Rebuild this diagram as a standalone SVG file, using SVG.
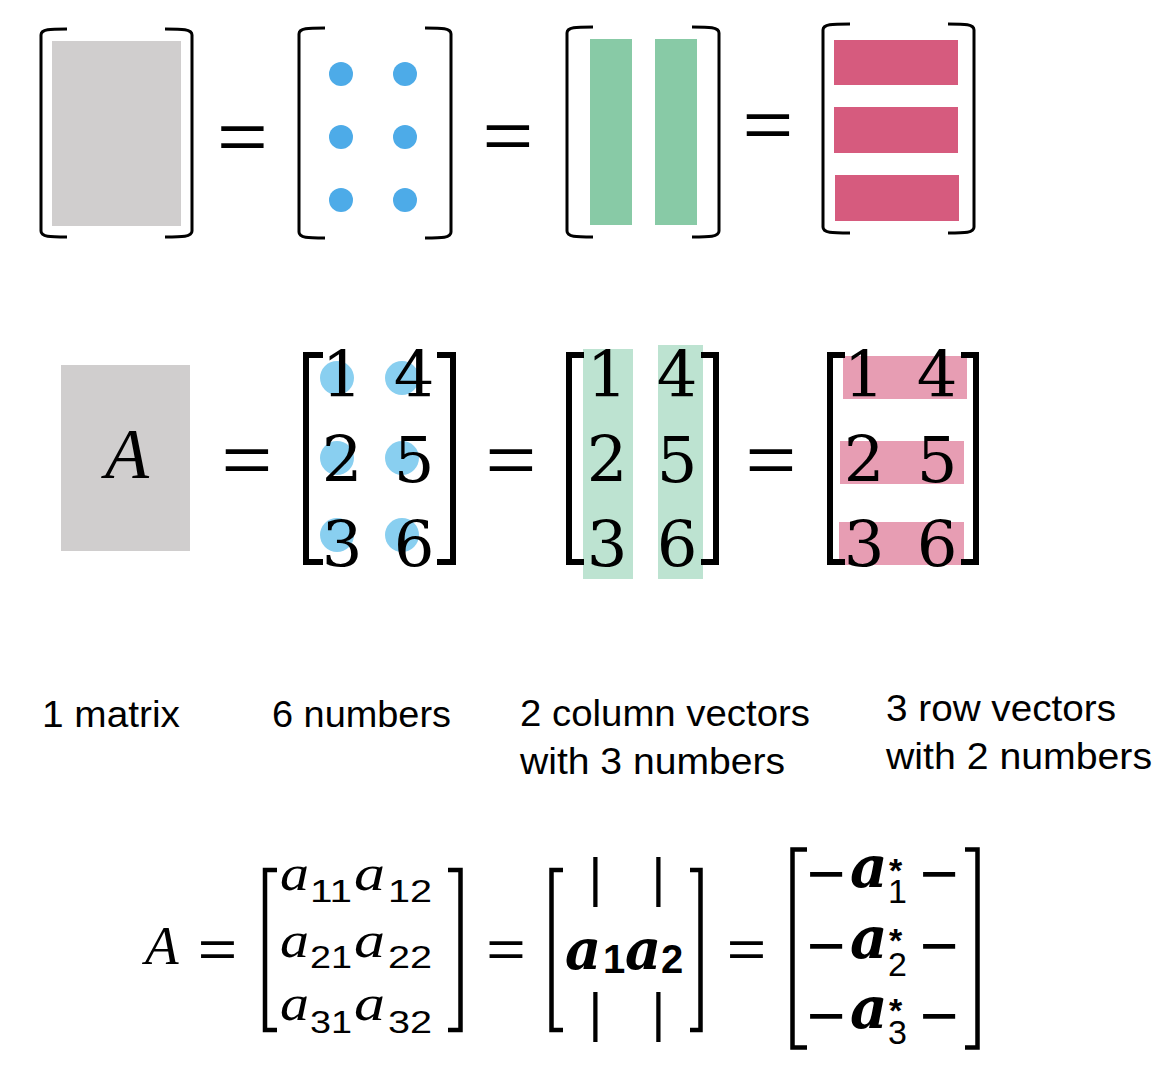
<svg xmlns="http://www.w3.org/2000/svg" width="1170" height="1070" viewBox="0 0 1170 1070">
<style>
.br{fill:none;stroke:#000;stroke-width:3;stroke-linecap:butt}
.brm{fill:none;stroke:#000;stroke-width:6;stroke-linejoin:miter}
.brb{fill:none;stroke:#000;stroke-width:4.5;stroke-linejoin:miter}
.eq{font-family:"Liberation Sans",Arial,sans-serif;font-size:67px;text-anchor:middle}
.eqs{font-family:"Liberation Sans",Arial,sans-serif;font-size:52px;text-anchor:middle}
.dig{font-family:"DejaVu Serif","Liberation Serif",serif;font-size:64px;text-anchor:middle}
.lab{font-family:"Liberation Sans",Arial,sans-serif;font-size:36px}
.it{font-family:"Liberation Serif","Times New Roman",serif;font-style:italic}
.bi{font-family:"DejaVu Serif","Liberation Serif",serif;font-style:italic;font-weight:bold}
.sub{font-family:"Liberation Sans",Arial,sans-serif}
</style>
<rect width="1170" height="1070" fill="#fff"/>

<!-- Top row -->
<g id="top-matrix">
<rect x="52" y="41" width="129" height="185" fill="#D0CECE"/>
<path class="br" d="M67,29 C50,29 41,29 41,35 L41,231 C41,237 50,237 67,237"/>
<path class="br" d="M165,29 C182,29 192,29 192,35 L192,231 C192,237 182,237 165,237"/>
</g>
<text class="eq" x="242.5" y="159" transform="translate(242.5,0) scale(1.3,1) translate(-242.5,0)">=</text>
<g id="top-numbers">
<path class="br" d="M325,28 C308,28 299,28 299,34 L299,232 C299,238 308,238 325,238"/>
<path class="br" d="M425,28 C442,28 451,28 451,34 L451,232 C451,238 442,238 425,238"/>
<g fill="#4DABE8">
<circle cx="341" cy="74" r="12"/><circle cx="405" cy="74" r="12"/>
<circle cx="341" cy="137" r="12"/><circle cx="405" cy="137" r="12"/>
<circle cx="341" cy="200" r="12"/><circle cx="405" cy="200" r="12"/>
</g>
</g>
<text class="eq" x="508" y="158.5" transform="translate(508,0) scale(1.3,1) translate(-508,0)">=</text>
<g id="top-columns">
<rect x="590" y="39" width="42" height="186" fill="#88CAA6"/>
<rect x="655" y="39" width="42" height="186" fill="#88CAA6"/>
<path class="br" d="M593,27 C576,27 567,27 567,33 L567,231 C567,237 576,237 593,237"/>
<path class="br" d="M692,27 C709,27 719,27 719,33 L719,231 C719,237 709,237 692,237"/>
</g>
<text class="eq" x="768" y="147" transform="translate(768,0) scale(1.3,1) translate(-768,0)">=</text>
<g id="top-rows">
<rect x="834" y="40" width="124" height="45" fill="#D65B7E"/>
<rect x="834" y="107" width="124" height="46" fill="#D65B7E"/>
<rect x="835" y="175" width="124" height="46" fill="#D65B7E"/>
<path class="br" d="M850,24 C832,24 823,24 823,30 L823,227 C823,233 832,233 850,233"/>
<path class="br" d="M948,24 C965,24 974,24 974,30 L974,227 C974,233 965,233 948,233"/>
</g>

<!-- Middle row -->
<g id="mid-A">
<rect x="61" y="365" width="129" height="186" fill="#D0CECE"/>
<text class="it" x="127" y="478" font-size="72" text-anchor="middle">A</text>
</g>
<text class="eq" x="247" y="482.5" transform="translate(247,0) scale(1.3,1) translate(-247,0)">=</text>
<g id="mid-numbers">
<g fill="#89CFF0">
<circle cx="337" cy="378" r="17"/><circle cx="402" cy="378" r="17"/>
<circle cx="337" cy="458" r="17"/><circle cx="402" cy="458" r="17"/>
<circle cx="337" cy="535" r="17"/><circle cx="402" cy="535" r="17"/>
</g>
<path class="brm" d="M323,355 L306,355 L306,562 L323,562"/>
<path class="brm" d="M437,355 L453,355 L453,562 L437,562"/>
<text class="dig" x="342" y="397">1</text><text class="dig" x="414" y="397">4</text>
<text class="dig" x="342" y="482">2</text><text class="dig" x="414" y="482">5</text>
<text class="dig" x="342" y="567">3</text><text class="dig" x="414" y="567">6</text>
</g>
<text class="eq" x="511" y="482.5" transform="translate(511,0) scale(1.3,1) translate(-511,0)">=</text>
<g id="mid-columns">
<rect x="583" y="349" width="50" height="230" fill="#BDE3D1"/>
<rect x="658" y="345" width="45" height="234" fill="#BDE3D1"/>
<path class="brm" d="M584,355 L569,355 L569,562 L584,562"/>
<path class="brm" d="M701,355 L716,355 L716,562 L701,562"/>
<text class="dig" x="607" y="397">1</text><text class="dig" x="677" y="397">4</text>
<text class="dig" x="607" y="482">2</text><text class="dig" x="677" y="482">5</text>
<text class="dig" x="607" y="567">3</text><text class="dig" x="677" y="567">6</text>
</g>
<text class="eq" x="771" y="482.5" transform="translate(771,0) scale(1.3,1) translate(-771,0)">=</text>
<g id="mid-rows">
<rect x="843" y="356" width="124" height="43" fill="#E79DB3"/>
<rect x="840" y="441" width="124" height="43" fill="#E79DB3"/>
<rect x="839" y="522" width="125" height="43" fill="#E79DB3"/>
<path class="brm" d="M845,355 L830,355 L830,562 L845,562"/>
<path class="brm" d="M961,355 L976,355 L976,562 L961,562"/>
<text class="dig" x="864" y="397">1</text><text class="dig" x="937" y="397">4</text>
<text class="dig" x="864" y="482">2</text><text class="dig" x="937" y="482">5</text>
<text class="dig" x="864" y="567">3</text><text class="dig" x="937" y="567">6</text>
</g>

<!-- Labels -->
<g id="labels">
<text class="lab" x="42" y="727" textLength="138" lengthAdjust="spacingAndGlyphs">1 matrix</text>
<text class="lab" x="272" y="727" textLength="179" lengthAdjust="spacingAndGlyphs">6 numbers</text>
<text class="lab" x="520" y="726" textLength="290" lengthAdjust="spacingAndGlyphs">2 column vectors</text>
<text class="lab" x="520" y="774" textLength="265" lengthAdjust="spacingAndGlyphs">with 3 numbers</text>
<text class="lab" x="886" y="721" textLength="230" lengthAdjust="spacingAndGlyphs">3 row vectors</text>
<text class="lab" x="886" y="769" textLength="266" lengthAdjust="spacingAndGlyphs">with 2 numbers</text>
</g>

<!-- Bottom equation -->
<g id="eq-A">
<text class="it" x="145" y="964" font-size="55">A</text>
</g>
<text class="eqs" x="217.5" y="967" transform="translate(217.5,0) scale(1.3,1) translate(-217.5,0)">=</text>
<g id="eq-entries">
<path class="brb" d="M277,870 L265,870 L265,1030 L277,1030"/>
<path class="brb" d="M448,870 L460.5,870 L460.5,1030 L448,1030"/>
<g class="it" font-size="50">
<text x="280" y="890" textLength="29" lengthAdjust="spacingAndGlyphs">a</text><text x="354" y="890" textLength="31" lengthAdjust="spacingAndGlyphs">a</text>
<text x="280" y="957" textLength="29" lengthAdjust="spacingAndGlyphs">a</text><text x="354" y="957" textLength="31" lengthAdjust="spacingAndGlyphs">a</text>
<text x="280" y="1020" textLength="29" lengthAdjust="spacingAndGlyphs">a</text><text x="354" y="1020" textLength="31" lengthAdjust="spacingAndGlyphs">a</text>
</g>
<g class="sub" font-size="31">
<text x="310" y="902" textLength="42" lengthAdjust="spacingAndGlyphs">11</text>
<text x="388" y="902" textLength="44" lengthAdjust="spacingAndGlyphs">12</text>
<text x="310" y="968" textLength="42" lengthAdjust="spacingAndGlyphs">21</text>
<text x="388" y="968" textLength="44" lengthAdjust="spacingAndGlyphs">22</text>
<text x="310" y="1033" textLength="42" lengthAdjust="spacingAndGlyphs">31</text>
<text x="388" y="1033" textLength="44" lengthAdjust="spacingAndGlyphs">32</text>
</g>
</g>
<text class="eqs" x="506" y="967" transform="translate(506,0) scale(1.3,1) translate(-506,0)">=</text>
<g id="eq-columns">
<path class="brb" d="M563,870 L551.5,870 L551.5,1030 L563,1030"/>
<path class="brb" d="M690,870 L700.5,870 L700.5,1030 L690,1030"/>
<g class="sub" font-size="53" text-anchor="middle">
<text x="595.5" y="896">|</text><text x="658.5" y="896">|</text>
<text x="595.5" y="1031">|</text><text x="658.5" y="1031">|</text>
</g>
<text class="bi" x="565" y="969" font-size="56">a</text>
<text class="sub" x="603" y="973" font-size="40" font-weight="bold">1</text>
<text class="bi" x="625" y="969" font-size="56">a</text>
<text class="sub" x="661" y="973" font-size="40" font-weight="bold">2</text>
</g>
<text class="eqs" x="746.5" y="967" transform="translate(746.5,0) scale(1.3,1) translate(-746.5,0)">=</text>
<g id="eq-rows">
<path class="brb" d="M807,849.5 L792.5,849.5 L792.5,1047.5 L807,1047.5"/>
<path class="brb" d="M965,849.5 L977.5,849.5 L977.5,1047.5 L965,1047.5"/>
<g class="sub" font-size="66">
<text x="807" y="896">−</text><text x="920" y="896">−</text>
<text x="807" y="968">−</text><text x="920" y="968">−</text>
<text x="807" y="1038">−</text><text x="920" y="1038">−</text>
</g>
<g class="bi" font-size="58">
<text x="850" y="887">a</text>
<text x="850" y="958">a</text>
<text x="850" y="1028">a</text>
</g>
<g class="sub" font-size="34" font-weight="bold">
<text x="889" y="882">*</text><text x="889" y="952">*</text><text x="889" y="1022">*</text>
</g>
<g class="sub" font-size="34">
<text x="888" y="903">1</text><text x="888" y="976">2</text><text x="888" y="1044">3</text>
</g>
</g>
</svg>
